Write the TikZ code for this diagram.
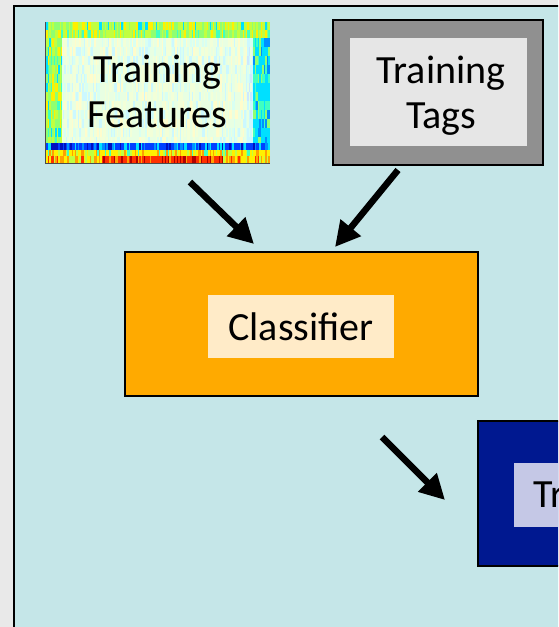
\documentclass[tikz,border=0pt]{standalone}
\usepackage{fontspec}
\setmainfont{Carlito}
\usetikzlibrary{arrows.meta}
\definecolor{pagebg}{HTML}{E9E9E9}
\definecolor{panel}{HTML}{C5E6E8}
\definecolor{tagout}{HTML}{909090}
\definecolor{tagin}{HTML}{E6E6E6}
\definecolor{orangebox}{HTML}{FFAA00}
\definecolor{orangein}{HTML}{FFEBC8}
\definecolor{bluebox}{HTML}{001890}
\definecolor{bluein}{HTML}{C5C8E6}
\definecolor{jbA}{HTML}{0010C0}
\definecolor{jbB}{HTML}{0040FF}
\definecolor{jbC}{HTML}{0090FF}
\definecolor{jc}{HTML}{00E0FF}
\definecolor{jcg}{HTML}{40FFC0}
\definecolor{jg}{HTML}{90FF70}
\definecolor{jyg}{HTML}{C0FF40}
\definecolor{jy}{HTML}{FFF000}
\definecolor{jo}{HTML}{FFA000}
\definecolor{jr}{HTML}{FF3000}
\definecolor{jdr}{HTML}{B00000}
\tikzset{
  box/.style={draw=black, line width=2pt, inner sep=0pt},
  lbl/.style={inner sep=0pt, align=center, font=\fontsize{40}{45}\selectfont},
  arr/.style={line width=6.5pt, -{Triangle[length=25pt,width=25pt]}},
}
\pgfmathdeclarerandomlist{rowtop}{{jyg}{jy}{jg}{jyg}{jy}{jyg}{jg}{jc}}
\pgfmathdeclarerandomlist{rowtopb}{{jg}{jyg}{jcg}{jy}{jg}{jyg}}
\pgfmathdeclarerandomlist{rowmid}{{jg}{jcg}{jyg}{jyg}{jg}{jy}{jc}{jg}}
\pgfmathdeclarerandomlist{rowright}{{jc}{jcg}{jbC}{jc}{jg}{jc}}
\pgfmathdeclarerandomlist{rowblue}{{jbB}{jbC}{jbA}{jc}{jbB}{jbB}}
\pgfmathdeclarerandomlist{rowyel}{{jy}{jo}{jyg}{jy}{jcg}{jy}}
\pgfmathdeclarerandomlist{rowred}{{jr}{jdr}{jr}{jo}{jdr}{jr}}
\pgfmathdeclarerandomlist{rowredside}{{jo}{jy}{jr}{jy}{jo}{jyg}}
\begin{document}
\begin{tikzpicture}[x=1pt,y=-1pt]
\useasboundingbox (0,0) rectangle (558,627);
\clip (0,0) rectangle (558,627);
\fill[pagebg] (0,0) rectangle (558,627);
\filldraw[fill=panel, draw=black, line width=2.5pt] (14,6) rectangle (600,660);

% Training Features (heat map)
\node[minimum width=224pt, minimum height=141pt, inner sep=0pt] (feat) at (158,92.5) {};
\pgfmathsetseed{11}
\foreach \xx in {46,47.5,...,269} {
  \ifdim\xx pt>246pt \def\lst{rowright}\else\def\lst{rowmid}\fi
  \ifdim\xx pt>100pt \ifdim\xx pt<222pt \def\lstr{rowred}\else\def\lstr{rowredside}\fi\else\def\lstr{rowredside}\fi
  \pgfmathrandomitem{\cc}{rowtop}\fill[\cc] (\xx,22) rectangle ++(1.5,8);
  \pgfmathrandomitem{\cc}{rowtopb}\fill[\cc] (\xx,30) rectangle ++(1.5,8);
  \foreach \yy in {38,47,...,137} {
    \pgfmathrandomitem{\cc}{\lst}\fill[\cc] (\xx,\yy) rectangle ++(1.5,9);
  }
  \pgfmathrandomitem{\cc}{rowblue}\fill[\cc] (\xx,143) rectangle ++(1.5,7);
  \pgfmathrandomitem{\cc}{rowyel}\fill[\cc] (\xx,150) rectangle ++(1.5,6);
  \pgfmathrandomitem{\cc}{\lstr}\fill[\cc] (\xx,156) rectangle ++(1.5,7);
}
\draw[black!70, line width=0.8pt] (feat.north west) -- (feat.south west) -- (feat.south east);
\fill[white, opacity=0.8] (62,38) rectangle (253,143);
\node[lbl] (featlbl) at (157.5,91.5) {Training\\Features};

% Training Tags
\node[box, fill=tagout, minimum width=210pt, minimum height=145pt] (tags) at (438,92.5) {};
\node[inner sep=0pt, fill=tagin, minimum width=177pt, minimum height=108pt] (tagsbg) at (438.5,92) {};
\node[lbl] (tagslbl) at (441,96) {Training\\Tags};

% Classifier
\node[box, fill=orangebox, minimum width=353pt, minimum height=144pt] (cls) at (301.5,324) {};
\node[lbl, fill=orangein, minimum width=186pt, minimum height=63pt] (clslbl) at (301,326.5) {Classifier};

% Trained (clipped) box
\node[box, fill=bluebox, minimum width=353pt, minimum height=145pt, anchor=north west] (trained) at (477,420) {};
\node[lbl, fill=bluein, minimum height=64pt, anchor=west, text width=186pt, align=left] (trainedlbl) at (514,495) {\hspace*{19pt}Tr};

% arrows
\coordinate (a1s) at (190,182);
\coordinate (a1e) at (254,244);
\coordinate (a2s) at (398,170);
\coordinate (a2e) at (335,247);
\coordinate (a3s) at (382,437);
\coordinate (a3e) at (445,500);
\draw[arr] (a1s) -- (a1e);
\draw[arr] (a2s) -- (a2e);
\draw[arr] (a3s) -- (a3e);
\end{tikzpicture}
\end{document}
